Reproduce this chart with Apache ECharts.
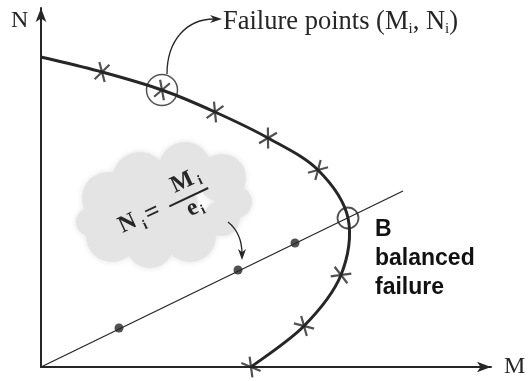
<!DOCTYPE html>
<html>
<head>
<meta charset="utf-8">
<script src="https://cdn.jsdelivr.net/npm/echarts@6/dist/echarts.min.js"></script>
<style>
  html, body { margin: 0; padding: 0; background: #fff; }
  #chart { width: 529px; height: 381px; }
</style>
</head>
<body>
<div id="chart"></div>
<script>
// Interaction diagram: failure envelope (M, N) with a radial eccentricity line
const curvePoints = [[0, 310], [61, 295], [121, 277], [174, 255], [227, 229], [277, 197], [307, 149], [300, 92], [263, 41], [210, 0]];
const failurePoints = [[61, 295], [121, 277], [174, 255], [227, 229], [277, 197], [300, 92], [263, 41], [210, 0]];
const highlightedPoint = [121, 277];
const balancedPoint = [307, 149];
const eccentricityLine = [[0, 0], [362, 176]];
const loadPoints = [[78, 39], [197, 97], [254, 124]];
const axisNames = { x: 'M', y: 'N' };

const ink = '#262626';
const serif = '"Liberation Serif", "DejaVu Serif", serif';
const sans = '"Liberation Sans", Arial, sans-serif';

// tangent angle of the envelope at each failure point (degrees, counterclockwise)
function tangentAngle(pt) {
  const i = curvePoints.findIndex(p => p[0] === pt[0] && p[1] === pt[1]);
  const a = curvePoints[Math.max(0, i - 1)];
  const b = curvePoints[Math.min(curvePoints.length - 1, i + 1)];
  return Math.atan2(b[1] - a[1], b[0] - a[0]) * 180 / Math.PI;
}

// Catmull-Rom spline through the envelope points, as cubic Bezier path data
function splinePath(pts) {
  let d = 'M' + pts[0][0] + ',' + pts[0][1];
  for (let i = 0; i < pts.length - 1; i++) {
    const p0 = pts[Math.max(0, i - 1)], p1 = pts[i], p2 = pts[i + 1], p3 = pts[Math.min(pts.length - 1, i + 2)];
    const c1 = [p1[0] + (p2[0] - p0[0]) / 6, p1[1] + (p2[1] - p0[1]) / 6];
    const c2 = [p2[0] - (p3[0] - p1[0]) / 6, p2[1] - (p3[1] - p1[1]) / 6];
    d += 'C' + c1[0] + ',' + c1[1] + ',' + c2[0] + ',' + c2[1] + ',' + p2[0] + ',' + p2[1];
  }
  return d;
}

const chart = echarts.init(document.getElementById('chart'), null, { renderer: 'canvas' });

chart.setOption({
  animation: false,
  backgroundColor: '#fff',
  grid: { left: 41, right: 38, top: 8, bottom: 14 },
  xAxis: {
    type: 'value', min: 0, max: 450,
    name: axisNames.x, nameLocation: 'end', nameGap: 13,
    nameTextStyle: { fontFamily: serif, fontSize: 24, color: ink, verticalAlign: 'middle' },
    axisLine: { show: true, symbol: ['none', 'arrow'], symbolSize: [8, 14], lineStyle: { color: ink, width: 2 } },
    axisTick: { show: false }, axisLabel: { show: false }, splitLine: { show: false }
  },
  yAxis: {
    type: 'value', min: 0, max: 359,
    axisLine: { show: true, symbol: ['none', 'arrow'], symbolSize: [8, 14], lineStyle: { color: ink, width: 2 } },
    axisTick: { show: false }, axisLabel: { show: false }, splitLine: { show: false }
  },
  series: [
    {
      name: 'envelope', type: 'custom', data: curvePoints, z: 3,
      renderItem: (params, api) => {
        if (params.dataIndex !== 0) return null;
        const px = curvePoints.map(p => api.coord(p));
        return {
          type: 'path',
          shape: { pathData: splinePath(px) },
          style: { fill: 'none', stroke: ink, lineWidth: 3 }
        };
      }
    },
    {
      name: 'eccentricity', type: 'line', data: eccentricityLine,
      symbol: 'none', lineStyle: { color: ink, width: 1.3 }, z: 2
    },
    {
      name: 'failure points', type: 'scatter', data: failurePoints,
      symbol: 'path://M0.5,0.134L1.5,1.866M1.5,0.134L0.5,1.866',
      symbolKeepAspect: true, symbolSize: 18,
      symbolRotate: (v) => tangentAngle(v),
      itemStyle: { color: 'none', borderColor: ink, borderWidth: 2.2 }, z: 4
    },
    {
      name: 'loads', type: 'scatter', data: loadPoints, symbol: 'circle', symbolSize: 9,
      itemStyle: { color: ink }, z: 4
    },
    {
      name: 'highlight', type: 'scatter', data: [highlightedPoint], symbol: 'circle', symbolSize: 31,
      itemStyle: { color: 'none', borderColor: ink, borderWidth: 1.5 }, z: 5
    },
    {
      name: 'balanced', type: 'scatter', data: [balancedPoint], symbol: 'circle', symbolSize: 21,
      itemStyle: { color: 'none', borderColor: ink, borderWidth: 1.8 }, z: 5
    }
  ]
});

// annotations placed relative to the plotted points
const hp = chart.convertToPixel({ gridIndex: 0 }, highlightedPoint);
const lp = chart.convertToPixel({ gridIndex: 0 }, loadPoints[1]);
const bp = chart.convertToPixel({ gridIndex: 0 }, balancedPoint);

function arrowHead(tip, dir, len, half) {
  const ux = Math.cos(dir), uy = Math.sin(dir);
  const bx = tip[0] - ux * len, by = tip[1] - uy * len;
  return [[tip[0], tip[1]], [bx - uy * half, by + ux * half], [tip[0] - ux * len * 0.7, tip[1] - uy * len * 0.7], [bx + uy * half, by - ux * half]];
}

// soft shaded cloud behind the formula
const cloud = [[108, 198, 26], [140, 180, 28], [185, 168, 26], [222, 178, 24], [236, 202, 16], [112, 236, 26], [150, 244, 24], [190, 236, 26], [222, 218, 18], [160, 208, 38], [90, 222, 14]];

const labelTip = [hp[0] + 60, 19];
const arrow2Tip = [lp[0] + 4, lp[1] - 10];
const big = 'bold 24px ' + serif;
const small = 'bold 14px ' + serif;
const glyph = (text, x, y, font) => ({ type: 'text', x, y, style: { text, font, fill: ink, textAlign: 'center', textVerticalAlign: 'middle' } });

chart.setOption({
  graphic: [
    {
      type: 'group', z: 0, silent: true,
      children: cloud.map(c => ({ type: 'circle', shape: { cx: c[0], cy: c[1], r: c[2] }, style: { fill: '#e4e4e4', shadowBlur: 6, shadowColor: '#e4e4e4' } }))
    },
    // formula N_i = M_i / e_i
    {
      type: 'group', x: 153, y: 214, rotation: 0.44, z: 10,
      children: [
        glyph('N', -27, -2, big),
        glyph('i', -12, 7, small),
        glyph('=', 0, -1, 'bold 26px ' + serif),
        glyph('M', 40, -16, big),
        glyph('i', 57, -10, small),
        { type: 'line', shape: { x1: 18, y1: 0, x2: 61, y2: 0 }, style: { stroke: ink, lineWidth: 2 } },
        glyph('e', 38, 12, big),
        glyph('i', 47, 18, small)
      ]
    },
    // arrow from the formula to a load point
    {
      type: 'bezierCurve', z: 10,
      shape: { x1: 228, y1: 222, cpx1: 238, cpy1: 230, cpx2: arrow2Tip[0], cpy2: arrow2Tip[1] - 20, x2: arrow2Tip[0], y2: arrow2Tip[1] - 6 },
      style: { stroke: ink, lineWidth: 1.3, fill: 'none' }
    },
    { type: 'polygon', z: 10, shape: { points: arrowHead(arrow2Tip, Math.PI / 2, 11, 4) }, style: { fill: ink } },
    // arrow from the highlighted failure point to its label
    {
      type: 'bezierCurve', z: 10,
      shape: { x1: hp[0] + 5, y1: hp[1] - 16, cpx1: hp[0] + 5, cpy1: 40, cpx2: hp[0] + 25, cpy2: 19, x2: labelTip[0] - 8, y2: 19 },
      style: { stroke: ink, lineWidth: 1.3, fill: 'none' }
    },
    { type: 'polygon', z: 10, shape: { points: arrowHead(labelTip, 0, 12, 4) }, style: { fill: ink } },
    {
      type: 'text', x: labelTip[0] + 1, y: 22, z: 10,
      style: {
        text: '{t|Failure points (M}{s|i}{t|, N}{s|i}{t|)}',
        textVerticalAlign: 'middle',
        rich: {
          t: { fontFamily: serif, fontSize: 26.5, fill: ink, lineHeight: 28, verticalAlign: 'middle' },
          s: { fontFamily: serif, fontSize: 15, fill: ink, lineHeight: 15, padding: [14, 0, 0, 0], verticalAlign: 'middle' }
        }
      }
    },
    // balanced failure label
    {
      type: 'text', x: bp[0] + 27, y: bp[1] + 41, z: 10,
      style: { text: 'B\nbalanced\nfailure', font: 'bold 23px ' + sans, fill: '#111', lineHeight: 29, textVerticalAlign: 'middle' }
    },
    // vertical axis name
    { type: 'text', x: 11, y: 21, z: 10, style: { text: axisNames.y, font: '24px ' + serif, fill: ink, textVerticalAlign: 'middle' } }
  ]
});
</script>
</body>
</html>
